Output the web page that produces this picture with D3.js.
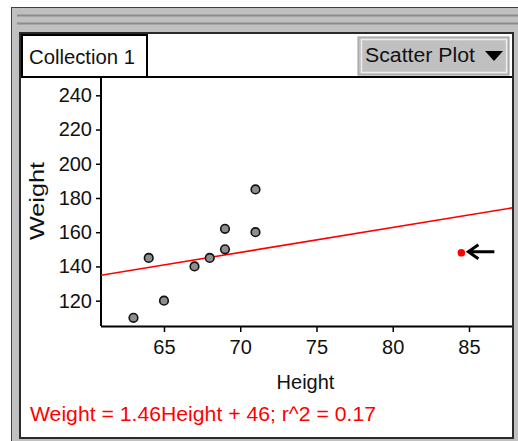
<!DOCTYPE html>
<html>
<head>
<meta charset="utf-8">
<script src="https://cdn.jsdelivr.net/npm/d3@7"></script>
<style>
  body { margin: 0; background: #fff; }
  svg { display: block; font-family: "Liberation Sans", Arial, sans-serif; }
</style>
</head>
<body>
<svg width="518" height="441"></svg>
<script>
// data
const heights = [63, 64, 65, 67, 68, 69, 69, 71, 71];
const weights = [110, 145, 120, 140, 145, 150, 162, 160, 185];
const movedPoint = [84.5, 148];
const fitSlope = 1.46;
const fitIntercept = 46;
const rSquared = 0.17;
const xTicks = [65, 70, 75, 80, 85];
const yTicks = [120, 140, 160, 180, 200, 220, 240];

const svg = d3.select("svg");

// window chrome
svg.append("rect").attr("x", 11.5).attr("y", 7.5).attr("width", 520).attr("height", 440)
  .attr("fill", "#c0c0c0").attr("stroke", "#404040");
[15, 23].forEach(yy => {
  svg.append("line").attr("x1", 17).attr("x2", 518).attr("y1", yy + 0.5).attr("y2", yy + 0.5)
    .attr("stroke", "#8c8c8c").attr("stroke-width", 2);
});
svg.append("rect").attr("x", 20).attr("y", 33).attr("width", 493).attr("height", 405)
  .attr("fill", "#fff").attr("stroke", "#2a2a2a").attr("stroke-width", 2);

// header
svg.append("line").attr("x1", 22).attr("x2", 512).attr("y1", 77).attr("y2", 77)
  .attr("stroke", "#000").attr("stroke-width", 2);
svg.append("rect").attr("x", 22).attr("y", 35).attr("width", 125).attr("height", 42)
  .attr("fill", "#fff").attr("stroke", "#000").attr("stroke-width", 2);
svg.append("text").attr("x", 29).attr("y", 64).attr("font-size", 20).attr("fill", "#111")
  .attr("textLength", 106).attr("lengthAdjust", "spacingAndGlyphs").text("Collection 1");

svg.append("rect").attr("x", 358).attr("y", 37).attr("width", 151).attr("height", 38)
  .attr("fill", "#c0c0c0").attr("stroke", "#9a9a9a");
svg.append("rect").attr("x", 361.5).attr("y", 39.5).attr("width", 145).attr("height", 33)
  .attr("fill", "none").attr("stroke", "#ececec").attr("stroke-width", 1.5);
svg.append("text").attr("x", 365).attr("y", 62).attr("font-size", 20).attr("fill", "#111")
  .attr("textLength", 110).attr("lengthAdjust", "spacingAndGlyphs").text("Scatter Plot");
svg.append("path").attr("d", "M485,51L503,51L494,61Z").attr("fill", "#000");

// plot
const plotLeft = 101, plotRight = 512, plotTop = 77, plotBottom = 326;

const x = d3.scaleLinear().domain([60.87, 87.82]).range([plotLeft, plotRight]);
const y = d3.scaleLinear().domain([105.2, 250.7]).range([plotBottom, plotTop]);

const xAxis = svg.append("g").attr("transform", `translate(0,${plotBottom})`)
  .call(d3.axisBottom(x).tickValues(xTicks).tickSize(6).tickPadding(8).tickSizeOuter(0));
const yAxis = svg.append("g").attr("transform", `translate(${plotLeft},0)`)
  .call(d3.axisLeft(y).tickValues(yTicks).tickSize(5).tickPadding(4).tickSizeOuter(0));

[xAxis, yAxis].forEach(g => {
  g.select(".domain").attr("stroke", "#000").attr("stroke-width", 2);
  g.selectAll(".tick line").attr("stroke", "#000").attr("stroke-width", 1.5);
  g.selectAll(".tick text").attr("fill", "#111").attr("font-size", 20)
    .attr("font-family", "\"Liberation Sans\", Arial, sans-serif");
});
xAxis.select(".domain").attr("d", `M${plotLeft},0.5H${plotRight}`);
yAxis.select(".domain").attr("d", `M0,${plotTop}V${plotBottom}`);

svg.append("text").attr("x", (plotLeft + plotRight) / 2 - 1).attr("y", 389).attr("text-anchor", "middle")
  .attr("font-size", 20).attr("fill", "#111").text("Height");
svg.append("text").attr("transform", "translate(44,201) rotate(-90)").attr("text-anchor", "middle")
  .attr("font-size", 20).attr("fill", "#111")
  .attr("textLength", 78).attr("lengthAdjust", "spacingAndGlyphs").text("Weight");

// least squares line
svg.append("clipPath").attr("id", "plotclip")
  .append("rect").attr("x", plotLeft).attr("y", plotTop)
  .attr("width", plotRight - plotLeft).attr("height", plotBottom - plotTop);
const [x0, x1] = x.domain();
svg.append("line").attr("clip-path", "url(#plotclip)")
  .attr("x1", x(x0)).attr("y1", y(fitSlope * x0 + fitIntercept))
  .attr("x2", x(x1)).attr("y2", y(fitSlope * x1 + fitIntercept))
  .attr("stroke", "#ff0000").attr("stroke-width", 1.6);

// points
svg.append("g").selectAll("circle")
  .data(heights.map((h, i) => [h, weights[i]]))
  .join("circle")
  .attr("cx", d => x(d[0])).attr("cy", d => y(d[1])).attr("r", 4.3)
  .attr("fill", "#8e8e8e").attr("stroke", "#111").attr("stroke-width", 1.6);

svg.append("circle").attr("cx", x(movedPoint[0])).attr("cy", y(movedPoint[1])).attr("r", 3.8)
  .attr("fill", "#ff0000");

// arrow pointing at the moved point
const ax = x(movedPoint[0]) + 6, ay = y(movedPoint[1]) - 1;
svg.append("path")
  .attr("d", `M${ax + 27},${ay}H${ax + 2}M${ax + 11},${ay - 7}L${ax + 1},${ay}L${ax + 11},${ay + 7}`)
  .attr("fill", "none").attr("stroke", "#000").attr("stroke-width", 3);

svg.append("text").attr("x", 30).attr("y", 421).attr("font-size", 20).attr("fill", "#ff0000")
  .attr("textLength", 346).attr("lengthAdjust", "spacingAndGlyphs")
  .text(`Weight = ${fitSlope}Height + ${fitIntercept}; r^2 = ${rSquared}`);
</script>
</body>
</html>
